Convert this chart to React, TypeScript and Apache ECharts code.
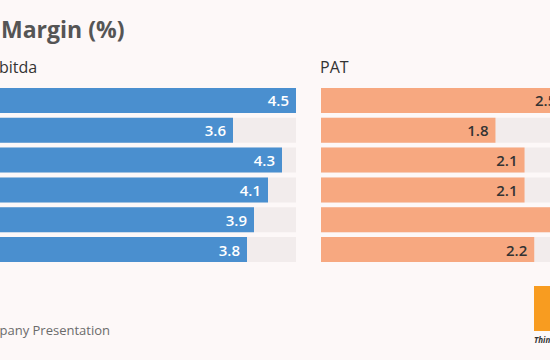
import React, { useEffect, useRef } from "react";
import * as echarts from "echarts";

const categories = ["P1", "P2", "P3", "P4", "P5", "P6"];
const ebitdaValues = [4.5, 3.6, 4.3, 4.1, 3.9, 3.8];
const patValues = [2.5, 1.8, 2.1, 2.1, 3.2, 2.2];
const titleText = "Margin (%)";
const leftLabel = "Ebitda";
const rightLabel = "PAT";
const sourceText = "Source: Company Presentation";

const O = 40; // the chart canvas starts 40px left of the visible page

export default function App() {
  const ref = useRef<HTMLDivElement>(null);
  useEffect(() => {
    document.body.style.margin = "0";
    document.body.style.overflow = "hidden";
    document.documentElement.style.overflow = "hidden";
    const chart = echarts.init(ref.current!, null, { renderer: "svg" });
    const font = "'Open Sans', 'Noto Sans', sans-serif";
    const bg = { color: "#f2ecec" };
    const lbl = (color: string) => ({
      show: true,
      position: "insideRight",
      distance: 7,
      color,
      fontSize: 15,
      fontWeight: 600,
      fontFamily: font,
      formatter: (p: any) => p.value.toFixed(1),
    });
    chart.setOption({
      animation: false,
      backgroundColor: "#fdf8f8",
      textStyle: { fontFamily: font },
      grid: [
        { left: O - 19, width: 315, top: 85.5, height: 179 },
        { left: O + 321, width: 315, top: 85.5, height: 179 },
      ],
      xAxis: [
        { type: "value", gridIndex: 0, min: 0, max: 4.5, show: false },
        { type: "value", gridIndex: 1, min: 0, max: 3.25, show: false },
      ],
      yAxis: [
        { type: "category", gridIndex: 0, data: categories, inverse: true, show: false },
        { type: "category", gridIndex: 1, data: categories, inverse: true, show: false },
      ],
      series: [
        {
          type: "bar",
          xAxisIndex: 0,
          yAxisIndex: 0,
          data: ebitdaValues,
          barWidth: 25,
          itemStyle: { color: "#4a8fcf" },
          showBackground: true,
          backgroundStyle: bg,
          label: lbl("#ffffff"),
        },
        {
          type: "bar",
          xAxisIndex: 1,
          yAxisIndex: 1,
          data: patValues,
          barWidth: 25,
          itemStyle: { color: "#f7a880" },
          showBackground: true,
          backgroundStyle: bg,
          label: lbl("#333333"),
        },
      ],
      graphic: [
        {
          type: "text",
          x: O + 1,
          y: 17,
          style: { text: titleText, fontSize: 23, fontWeight: "bold", fill: "#555555", fontFamily: font },
        },
        {
          type: "text",
          x: O - 10,
          y: 59,
          style: { text: leftLabel, fontSize: 16, fill: "#333333", fontFamily: font },
        },
        {
          type: "text",
          x: O + 320,
          y: 59,
          style: { text: rightLabel, fontSize: 16, fill: "#333333", fontFamily: font },
        },
        {
          type: "text",
          x: O + 110,
          y: 323,
          style: { text: sourceText, fontSize: 13, fill: "#6b6b6b", fontFamily: font, align: "right" },
        },
        {
          type: "rect",
          shape: { x: O + 534, y: 286, width: 45, height: 45 },
          style: { fill: "#f89c20" },
        },
        {
          type: "text",
          x: O + 534,
          y: 335,
          style: { text: "Think", fontSize: 8, fontWeight: "bold", fontStyle: "italic", fill: "#333333", fontFamily: font },
        },
      ],
    });
    return () => chart.dispose();
  }, []);
  return <div ref={ref} style={{ position: "fixed", left: -O, top: 0, width: 700, height: 360 }} />;
}
